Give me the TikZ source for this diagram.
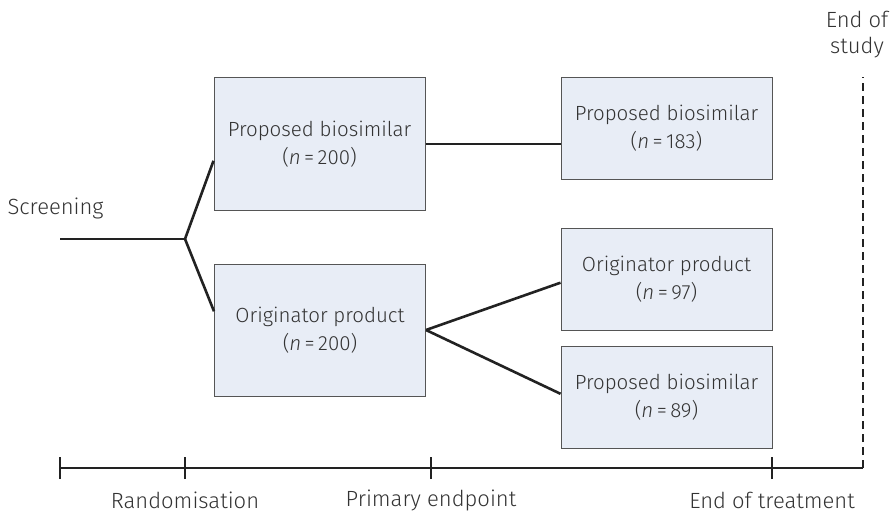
\documentclass[tikz,border=0pt]{standalone}
\usepackage{fontspec}
\setmainfont{Fira Sans}[UprightFont=* Light, ItalicFont=* Light Italic]
\usepackage{tikz}

\definecolor{boxfill}{HTML}{E8EDF6}
\definecolor{boxline}{HTML}{555555}
\definecolor{inkline}{HTML}{222222}
\definecolor{inktext}{HTML}{333333}

\tikzset{
  armbox/.style={draw=boxline, fill=boxfill, line width=1pt, minimum width=211pt,
    align=center, text=inktext, font=\fontsize{20.5}{28}\selectfont},
  link/.style={draw=inkline, line width=2.6pt},
  phase/.style={text=inktext, font=\fontsize{22}{26}\selectfont, align=center}
}

\begin{document}
\begin{tikzpicture}[x=1pt, y=-1pt]
  \useasboundingbox (0,0) rectangle (893,516);
  \node[armbox, minimum height=132pt] (b1) at (319.5,144) {Proposed biosimilar\\(\textit{n}\,=\,200)};
  \node[armbox, minimum height=132pt] (b2) at (320,330) {Originator product\\(\textit{n}\,=\,200)};
  \node[armbox, minimum height=102pt] (r1) at (666.5,128.5) {Proposed biosimilar\\(\textit{n}\,=\,183)};
  \node[armbox, minimum height=102pt] (r2) at (666.5,279) {Originator product\\(\textit{n}\,=\,97)};
  \node[armbox, minimum height=102pt] (r3) at (666.5,397.5) {Proposed biosimilar\\(\textit{n}\,=\,89)};
  \coordinate (start) at (60,239);
  \coordinate (fork) at (185,239);
  \node[phase, anchor=west] (screen) at (4,208) {Screening};
  \draw[link] (start) -- (fork);
  \draw[link] (fork) -- (b1.189);
  \draw[link] (fork) -- (b2.170);
  \draw[link] (b1.east) -- (b1.east -| r1.west);
  \draw[link] (b2.east) -- (r2.182);
  \draw[link] (b2.east) -- (r3.178);
  \coordinate (t0) at (60,468);
  \coordinate (t1) at (185,468);
  \coordinate (t2) at (431,468);
  \coordinate (t3) at (772,468);
  \coordinate (t4) at (863,468);
  \coordinate (top) at (863,77);
  \draw[link, line width=2.2pt] (t0) -- (t4);
  \foreach \t in {t0,t1,t2,t3}
    \draw[link, line width=2.2pt] ([yshift=-11pt]\t) -- ([yshift=11pt]\t);
  \draw[link, dash pattern=on 8pt off 5pt] (t4) -- (top);
  \node[phase] (rand) at (185,500) {Randomisation};
  \node[phase] (prim) at (431,500) {Primary endpoint};
  \node[phase] (eot) at (772,500) {End of treatment};
  \node[phase] (eos) at (857,35) {End of\\study};
\end{tikzpicture}
\end{document}
